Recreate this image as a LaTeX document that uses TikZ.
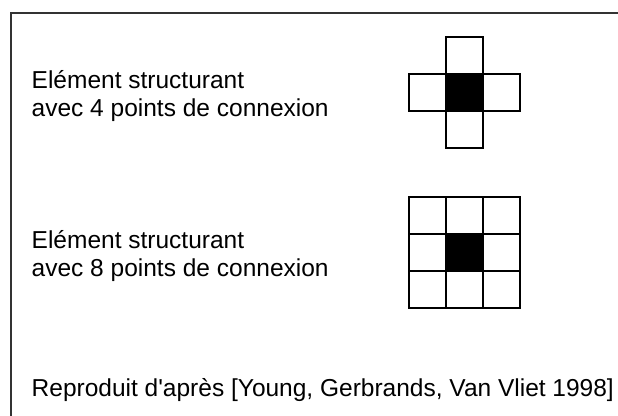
\documentclass[tikz,border=0pt]{standalone}
\usepackage{fontspec}
\setmainfont{Liberation Sans}
\definecolor{framegray}{RGB}{51,51,51}

\tikzset{
  pix/.style={draw, line width=2pt, minimum size=37pt, inner sep=0pt, outer sep=0pt, fill=white},
  txt/.style={anchor=west, align=left, inner sep=0pt, font=\fontsize{24.5}{27.4}\selectfont}
}

\begin{document}
\begin{tikzpicture}[x=1pt,y=-1pt]

\def \cell {37}
\def \cx {464.5}
\def \ya {92.5}
\def \yb {252.5}
\def \textx {31.5}

\useasboundingbox (0,0) rectangle (618,415);
\clip (0,0) rectangle (618,415);

% cadre
\draw[line width=2pt, framegray] (11,430) |- (630,13);

% 4 points de connexion
\foreach \dx/\dy [count=\i] in {0/-1,-1/0,1/0,0/1}
{
  \node (q\i) [pix] at ({\cx + \dx*\cell},{\ya + \dy*\cell}) {};
}
\node (q0) [pix, fill=black] at (\cx,\ya) {};

% 8 points de connexion
\foreach \dx in {-1,0,1}
{
  \foreach \dy in {-1,0,1}
  {
    \node (h\dx\dy) [pix] at ({\cx + \dx*\cell},{\yb + \dy*\cell}) {};
  }
}
\node (h0) [pix, fill=black] at (\cx,\yb) {};

\node (sq4) [txt] at (\textx,{\ya + 3.5}) {Elément structurant\\avec 4 points de connexion};
\node (sq8) [txt] at (\textx,{\yb + 3.5}) {Elément structurant\\avec 8 points de connexion};
\node (src) [txt] at (\textx,390) {Reproduit d\textquotesingle après [Young, Gerbrands, Van Vliet 1998]};

\end{tikzpicture}
\end{document}
